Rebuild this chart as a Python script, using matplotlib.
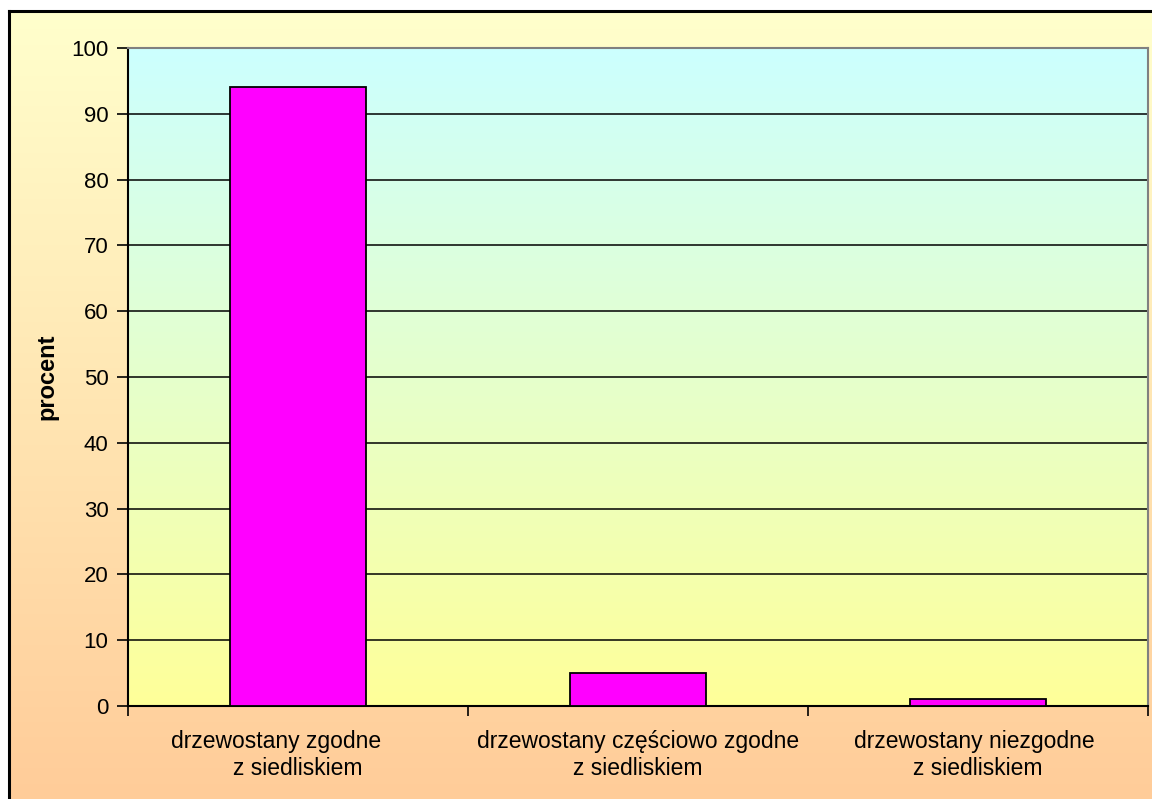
import numpy as np
import matplotlib.pyplot as plt
from matplotlib.colors import LinearSegmentedColormap

plt.rcParams['font.family'] = ['Liberation Sans', 'DejaVu Sans']

# dane
kategorie = ["drzewostany zgodne       \nz siedliskiem",
             "drzewostany częściowo zgodne\nz siedliskiem",
             "drzewostany niezgodne \nz siedliskiem"]
procent = [94, 5, 1]
y_ticks = list(range(0, 101, 10))

W, H = 1152, 799
fig = plt.figure(figsize=(W / 100, H / 100), dpi=100)
fig.patch.set_facecolor('white')

# tlo wykresu (gradient) z czarna ramka na gorze i po lewej
bg = fig.add_axes([9 / W, 0, 1 - 9 / W, 1 - 11 / H])
bg_cmap = LinearSegmentedColormap.from_list('bg', ['#FFCC99', '#FFFFCC'])
bg.imshow(np.linspace(0, 1, 256).reshape(-1, 1), aspect='auto', cmap=bg_cmap,
          origin='lower', extent=[0, 1, 0, 1])
bg.set_xlim(0, 1)
bg.set_ylim(0, 1)
bg.set_xticks([])
bg.set_yticks([])
for s in ['right', 'bottom']:
    bg.spines[s].set_visible(False)
for s in ['left', 'top']:
    bg.spines[s].set_linewidth(2.2)
    bg.spines[s].set_color('black')

ax = fig.add_axes([128 / W, (H - 706) / H, (1148 - 128) / W, (706 - 48) / H])
pa_cmap = LinearSegmentedColormap.from_list('pa', ['#FFFF99', '#CCFFFF'])
ax.imshow(np.linspace(0, 1, 256).reshape(-1, 1), aspect='auto', cmap=pa_cmap,
          origin='lower', extent=[-0.5, 2.5, 0, 100], zorder=0)

x = np.arange(len(procent))
ax.bar(x, procent, width=0.4, color='#FF00FF', edgecolor='black', linewidth=1.3, zorder=3)

ax.set_xlim(-0.5, 2.5)
ax.set_ylim(0, 100)
ax.set_yticks(y_ticks)
ax.tick_params(axis='y', labelsize=16, length=8, width=1.2, direction='out', pad=6)
ax.yaxis.grid(True, color='black', linewidth=1.1, zorder=1)
ax.set_axisbelow(True)

# kreski osi x na granicach kategorii, etykiety na srodku
ax.set_xticks([-0.5, 0.5, 1.5, 2.5])
ax.set_xticklabels([])
ax.set_xticks(x, minor=True)
ax.set_xticklabels(kategorie, minor=True, fontsize=16.5, linespacing=1.25)
ax.tick_params(axis='x', which='major', length=7, width=1.2, direction='out')
ax.tick_params(axis='x', which='minor', length=0, pad=17)

ax.set_ylabel('procent', fontsize=17, fontweight='bold', labelpad=9)

for s in ['left', 'bottom']:
    ax.spines[s].set_color('black')
    ax.spines[s].set_linewidth(1.5)
for s in ['top', 'right']:
    ax.spines[s].set_color('#808080')
    ax.spines[s].set_linewidth(1.5)

fig.savefig('out.png', dpi=100)
